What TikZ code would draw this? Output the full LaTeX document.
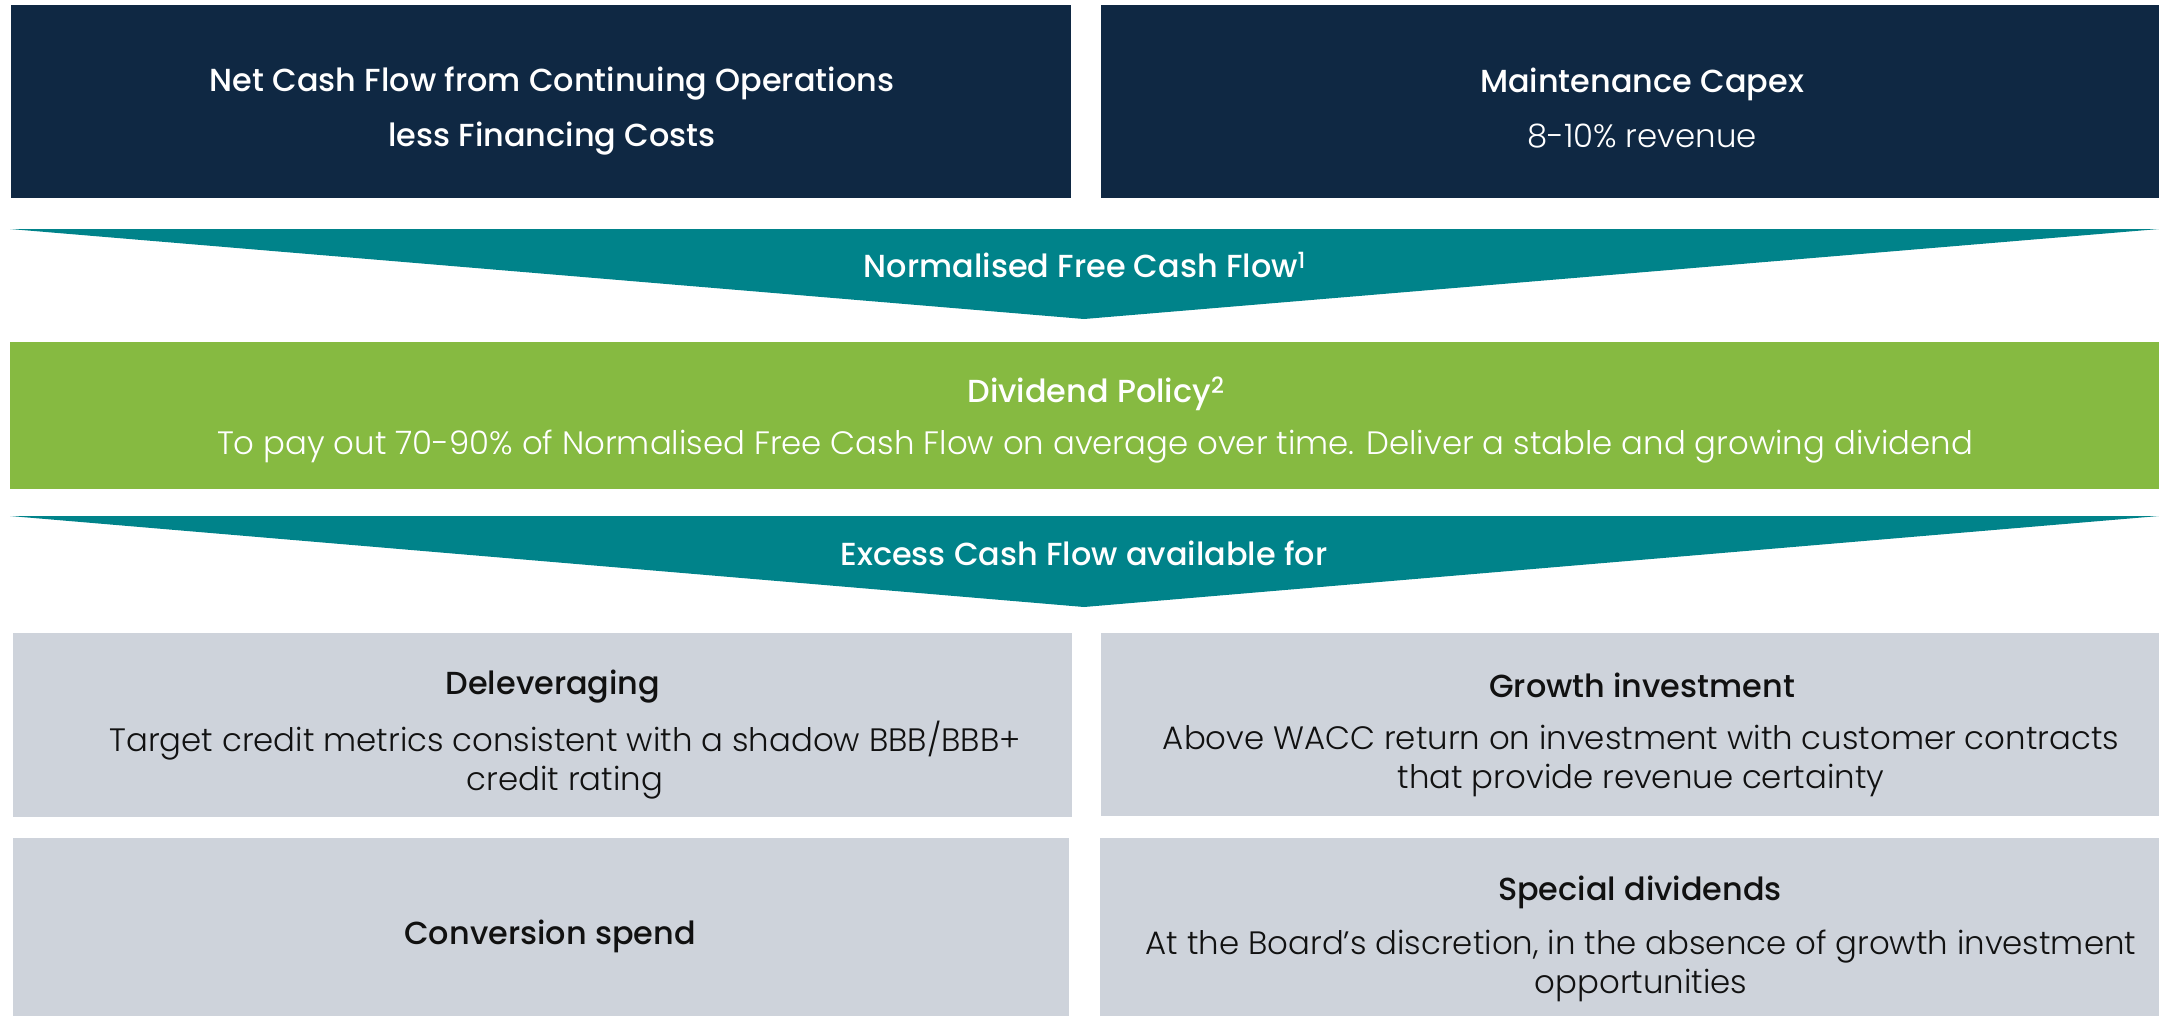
\documentclass[tikz,border=0pt]{standalone}
\usepackage{fontspec}
\setmainfont{Poppins}
\IfFontExistsTF{Poppins Medium}{\newfontfamily\fmed{Poppins Medium}}{\newfontfamily\fmed{Poppins}}
\IfFontExistsTF{Poppins Light}{\newfontfamily\flight{Poppins Light}}{\newfontfamily\flight{Poppins}}
\newcommand\tightlines{\lineskiplimit=-100pt\relax}
\definecolor{navy}{HTML}{0F2843}
\definecolor{teal}{HTML}{00838A}
\definecolor{leaf}{HTML}{86BA41}
\definecolor{pale}{HTML}{CED3DB}
\definecolor{ink}{HTML}{111111}
\tikzset{
  txt/.style={inner sep=0pt, align=center},
  head/.style={txt, font=\fontsize{32}{40}\selectfont\tightlines\fmed},
  body/.style={txt, font=\fontsize{32.5}{39}\selectfont\tightlines\flight},
}
\begin{document}
\begin{tikzpicture}[x=1bp,y=-1bp]
\useasboundingbox (0,0) rectangle (2159,1016);
% top boxes
\fill[navy] (11,5) rectangle (1071,198);
\fill[navy] (1101,5) rectangle (2159,198);
% arrow 1
\fill[teal] (10,229) -- (2159,229) -- (1084,319) -- cycle;
% green box
\fill[leaf] (10,342) rectangle (2159,489);
% arrow 2
\fill[teal] (10,516) -- (2159,516) -- (1084,607) -- cycle;
% grey boxes
\fill[pale] (13,633) rectangle (1072,817);
\fill[pale] (1101,633) rectangle (2159,816);
\fill[pale] (13,838) rectangle (1069,1016);
\fill[pale] (1100,838) rectangle (2159,1016);

\node[head, white, font=\fontsize{32}{55}\selectfont\tightlines\fmed] (ncf) at (552,111) {Net Cash Flow from Continuing Operations\\less Financing Costs};
\node[head, white] (mc) at (1642,84) {Maintenance Capex};
\node[body, white] (mcr) at (1642,136) {8-10\% revenue};
\node[head, white] (nfcf) at (1085,265) {Normalised Free Cash Flow\textsuperscript{1}};
\node[head, white] (dp) at (1096,394) {Dividend Policy\textsuperscript{2}};
\node[body, white] (dpt) at (1095,447) {To pay out 70-90\% of Normalised Free Cash Flow on average over time. Deliver a stable and growing dividend};
\node[head, white] (ecf) at (1084,553) {Excess Cash Flow available for};
\node[head, ink] (dl) at (553,687) {Deleveraging};
\node[body, ink] (dlt) at (565,760) {Target credit metrics consistent with a shadow BBB/BBB+\\credit rating};
\node[head, ink] (gi) at (1642,685) {Growth investment};
\node[body, ink] (git) at (1641,761) {Above WACC return on investment with customer contracts\\that provide revenue certainty};
\node[head, ink] (cs) at (550,936) {Conversion spend};
\node[head, ink] (sd) at (1640,892) {Special dividends};
\node[body, ink] (sdt) at (1641,966) {At the Board’s discretion, in the absence of growth investment\\opportunities};
\end{tikzpicture}
\end{document}
